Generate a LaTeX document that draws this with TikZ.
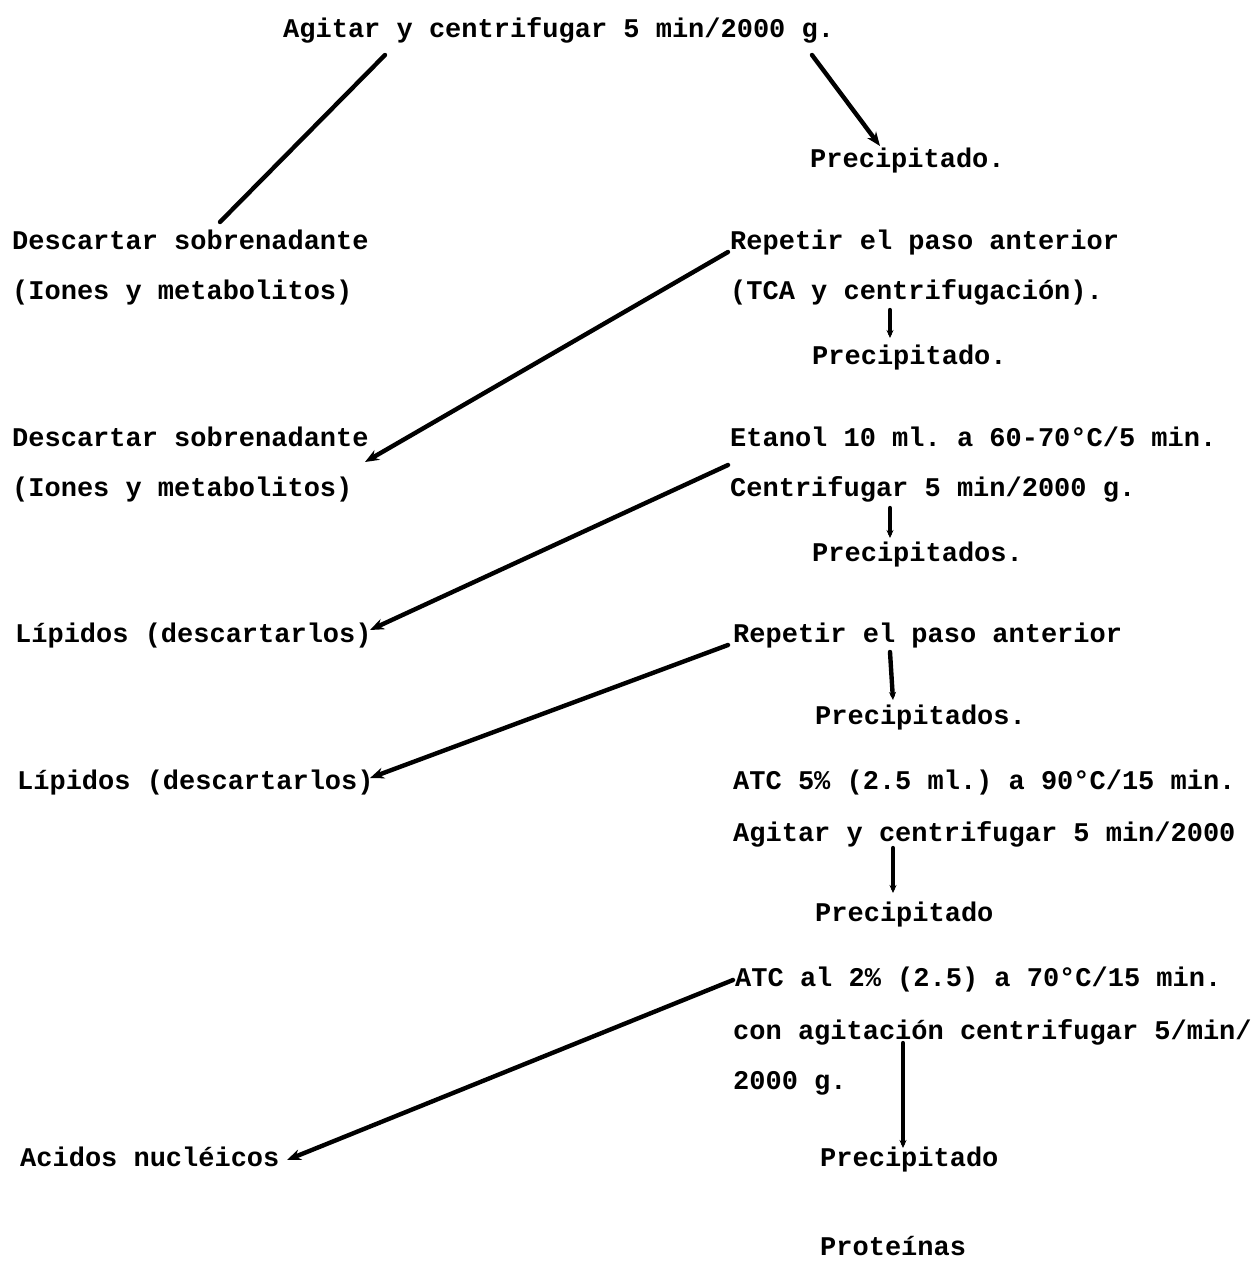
\documentclass[tikz,border=0pt]{standalone}
\usepackage{fontspec}
\setmainfont{Liberation Mono}
\usetikzlibrary{arrows.meta}
\frenchspacing
\begin{document}
\begin{tikzpicture}[x=1pt,y=-1pt,
  txt/.style={anchor=base west,inner sep=0pt,font=\fontsize{27}{30}\selectfont\bfseries},
  link/.style={line width=4.4pt,line cap=round},
  arr/.style={link,-{Stealth[length=14pt,width=11pt]}},
  varr/.style={link,-{Stealth[length=8pt,width=7pt]}}]
\useasboundingbox (0,0) rectangle (1256,1267);
% texts
\node[txt] (top) at (283,37) {Agitar y centrifugar 5 min/2000 g.};
\node[txt] (p1) at (810,167) {Precipitado.};
\node[txt] (d1) at (12,249) {Descartar sobrenadante};
\node[txt] (d1b) at (12,299) {(Iones y metabolitos)};
\node[txt] (r1) at (730,249) {Repetir el paso anterior};
\node[txt] (r1b) at (730,299) {(TCA y centrifugación).};
\node[txt] (p2) at (812,364) {Precipitado.};
\node[txt] (d2) at (12,446) {Descartar sobrenadante};
\node[txt] (d2b) at (12,496) {(Iones y metabolitos)};
\node[txt] (e1) at (730,446) {Etanol 10 ml. a 60-70°C/5 min.};
\node[txt] (e1b) at (730,496) {Centrifugar 5 min/2000 g.};
\node[txt] (p3) at (812,561) {Precipitados.};
\node[txt] (l1) at (15,642) {Lípidos (descartarlos)};
\node[txt] (r2) at (733,642) {Repetir el paso anterior};
\node[txt] (p4) at (815,724) {Precipitados.};
\node[txt] (l2) at (17,789) {Lípidos (descartarlos)};
\node[txt] (a1) at (733,789) {ATC 5\% (2.5 ml.) a 90°C/15 min.};
\node[txt] (a1b) at (733,841) {Agitar y centrifugar 5 min/2000};
\node[txt] (p5) at (815,921) {Precipitado};
\node[txt] (a2) at (735,986) {ATC al 2\% (2.5) a 70°C/15 min.};
\node[txt] (a2b) at (733,1039) {con agitación centrifugar 5/min/};
\node[txt] (a2c) at (733,1089) {2000 g.};
\node[txt] (ac) at (20,1166) {Acidos nucléicos};
\node[txt] (p6) at (820,1166) {Precipitado};
\node[txt] (pr) at (820,1255) {Proteínas};
% connector ends
\coordinate (c1s) at (385,55);  \coordinate (c1e) at (220,222);
\coordinate (c2s) at (812,55);  \coordinate (c2e) at (880,146);
\coordinate (c3s) at (728,252); \coordinate (c3e) at (365,462);
\coordinate (c4s) at (728,465); \coordinate (c4e) at (370,630);
\coordinate (c5s) at (728,645); \coordinate (c5e) at (370,778);
\coordinate (c6s) at (733,980); \coordinate (c6e) at (287,1160);
\coordinate (v1s) at (890,310); \coordinate (v1e) at (890,338);
\coordinate (v2s) at (890,508); \coordinate (v2e) at (890,538);
\coordinate (v3s) at (890,652); \coordinate (v3e) at (893,700);
\coordinate (v4s) at (893,848); \coordinate (v4e) at (893,893);
\coordinate (v5s) at (903,1043); \coordinate (v5e) at (903,1148);
% connectors
\draw[link] (c1s) -- (c1e);
\draw[arr] (c2s) -- (c2e);
\draw[arr] (c3s) -- (c3e);
\draw[arr] (c4s) -- (c4e);
\draw[arr] (c5s) -- (c5e);
\draw[arr] (c6s) -- (c6e);
\draw[varr] (v1s) -- (v1e);
\draw[varr] (v2s) -- (v2e);
\draw[varr] (v3s) -- (v3e);
\draw[varr] (v4s) -- (v4e);
\draw[varr] (v5s) -- (v5e);
\end{tikzpicture}
\end{document}
